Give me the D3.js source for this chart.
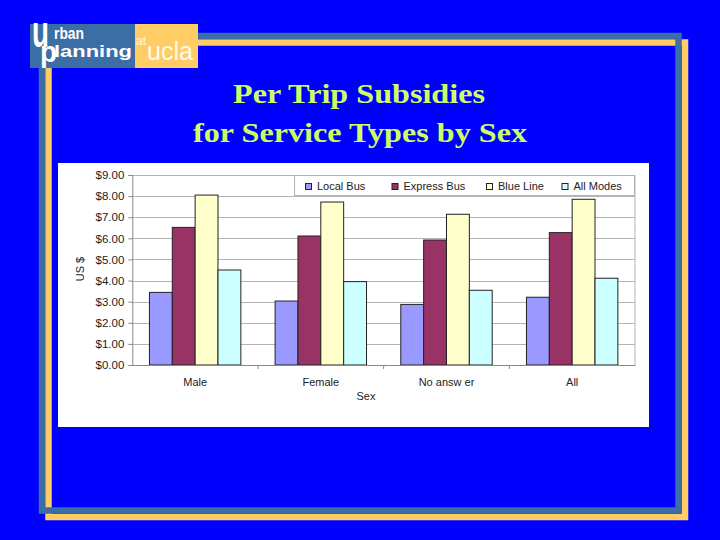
<!DOCTYPE html>
<html>
<head>
<meta charset="utf-8">
<script src="https://cdn.jsdelivr.net/npm/d3@7"></script>
<style>
  body { margin: 0; background: #0000ff; }
  svg { display: block; }
</style>
</head>
<body>
<script>
var categories = ["Male", "Female", "No answ er", "All"];
var series = ["Local Bus", "Express Bus", "Blue Line", "All Modes"];
var colors = ["#9999ff", "#993366", "#ffffcc", "#ccffff"];
// one array per series, in category order
var localBus   = [3.44, 3.03, 2.87, 3.21];
var expressBus = [6.52, 6.11, 5.92, 6.27];
var blueLine   = [8.05, 7.72, 7.14, 7.85];
var allModes   = [4.50, 3.95, 3.54, 4.11];
var yTicks = [0, 1, 2, 3, 4, 5, 6, 7, 8, 9];

var values = [localBus, expressBus, blueLine, allModes];

var svg = d3.select("body").append("svg").attr("width", 720).attr("height", 540);

svg.append("rect").attr("width", 720).attr("height", 540).attr("fill", "#0000ff");

// slide frame: orange offset behind steel blue
svg.append("rect")
    .attr("x", 48.5).attr("y", 42.5).attr("width", 636.5).attr("height", 474.5)
    .attr("fill", "none").attr("stroke", "#ffcc66").attr("stroke-width", 6.5);
svg.append("rect")
    .attr("x", 42).attr("y", 36).attr("width", 636.5).attr("height", 474.5)
    .attr("fill", "none").attr("stroke", "#3b6ea5").attr("stroke-width", 6.5);

// logo
var logo = svg.append("g").attr("font-family", "Liberation Sans, Arial, sans-serif").attr("fill", "#ffffff");
logo.append("rect").attr("x", 30).attr("y", 24).attr("width", 105).attr("height", 44).attr("fill", "#3b6ea5");
logo.append("rect").attr("x", 135).attr("y", 24).attr("width", 63).attr("height", 44).attr("fill", "#ffcc66");
logo.append("text").attr("x", 32).attr("y", 47).attr("font-size", 44).attr("font-weight", "bold")
    .attr("textLength", 17).attr("lengthAdjust", "spacingAndGlyphs").text("u");
logo.append("text").attr("x", 40).attr("y", 62).attr("font-size", 30).attr("font-weight", "bold")
    .attr("textLength", 17).attr("lengthAdjust", "spacingAndGlyphs").text("p");
logo.append("text").attr("x", 54).attr("y", 39).attr("font-size", 17).attr("font-weight", "bold")
    .attr("textLength", 30).attr("lengthAdjust", "spacingAndGlyphs").text("rban");
logo.append("text").attr("x", 54).attr("y", 57).attr("font-size", 17).attr("font-weight", "bold")
    .attr("textLength", 78).attr("lengthAdjust", "spacingAndGlyphs").text("lanning");
logo.append("text").attr("x", 136).attr("y", 45).attr("font-size", 12).attr("fill", "#fffbe8").text("at");
logo.append("text").attr("x", 147).attr("y", 60).attr("font-size", 26).attr("fill", "#fffbe8")
    .attr("textLength", 46).attr("lengthAdjust", "spacingAndGlyphs").text("ucla");

// title
var title = svg.append("g").attr("font-family", "Liberation Serif, Times New Roman, serif")
    .attr("font-weight", "bold").attr("font-size", 28).attr("fill", "#ccff66").attr("text-anchor", "middle");
title.append("text").attr("x", 359).attr("y", 103)
    .attr("textLength", 252).attr("lengthAdjust", "spacingAndGlyphs").text("Per Trip Subsidies");
title.append("text").attr("x", 360).attr("y", 142)
    .attr("textLength", 334).attr("lengthAdjust", "spacingAndGlyphs").text("for Service Types by Sex");

// chart box
svg.append("rect").attr("x", 58).attr("y", 163).attr("width", 591).attr("height", 264).attr("fill", "#ffffff");

var plotLeft = 132.3, plotRight = 635, plotTop = 175, plotBottom = 365;

var x0 = d3.scaleBand().domain(categories).range([plotLeft, plotRight]).padding(0);
var x1 = d3.scaleBand().domain(series).range([0, x0.bandwidth()]).paddingInner(0).paddingOuter(0.75);
var y = d3.scaleLinear().domain([0, 9]).range([plotBottom, plotTop]);

var chart = svg.append("g").attr("font-family", "Liberation Sans, Arial, sans-serif").attr("font-size", 11);

// gridlines
chart.selectAll("line.grid")
    .data(yTicks.slice(1))
    .enter().append("line")
    .attr("class", "grid")
    .attr("x1", plotLeft).attr("x2", plotRight)
    .attr("y1", function(d){ return Math.round(y(d)) + 0.5; })
    .attr("y2", function(d){ return Math.round(y(d)) + 0.5; })
    .attr("stroke", "#b4b4b4").attr("stroke-width", 1);
chart.append("line").attr("x1", plotRight).attr("x2", plotRight).attr("y1", plotTop).attr("y2", plotBottom)
    .attr("stroke", "#b4b4b4");

// y axis
var yAxis = chart.append("g").attr("transform", "translate(" + plotLeft + ",0)")
    .call(d3.axisLeft(y).tickValues(yTicks).tickFormat(function(d){ return "$" + d3.format(".2f")(d); })
        .tickSize(4).tickPadding(4));
yAxis.select(".domain").attr("stroke", "#888888");
yAxis.selectAll(".tick line").attr("stroke", "#888888");
yAxis.selectAll("text").attr("fill", "#222222").attr("font-size", 11.5).attr("font-family", "Liberation Sans, Arial, sans-serif");

// bars
var groups = chart.selectAll("g.cat")
    .data(categories)
    .enter().append("g")
    .attr("class", "cat")
    .attr("transform", function(d){ return "translate(" + x0(d) + ",0)"; });

groups.selectAll("rect")
    .data(function(d, i){ return series.map(function(s, j){ return {s: s, v: values[j][i], c: colors[j]}; }); })
    .enter().append("rect")
    .attr("x", function(d){ return x1(d.s); })
    .attr("y", function(d){ return y(d.v); })
    .attr("width", x1.bandwidth())
    .attr("height", function(d){ return plotBottom - y(d.v); })
    .attr("fill", function(d){ return d.c; })
    .attr("stroke", "#222222").attr("stroke-width", 1);

// x axis
var xAxis = chart.append("g").attr("transform", "translate(0," + plotBottom + ")")
    .call(d3.axisBottom(x0).tickSize(0).tickPadding(13));
xAxis.select(".domain").attr("stroke", "#888888");
xAxis.selectAll("text").attr("fill", "#222222").attr("font-size", 11).attr("font-family", "Liberation Sans, Arial, sans-serif");
chart.selectAll("line.xtick")
    .data(categories.slice(1))
    .enter().append("line")
    .attr("class", "xtick")
    .attr("x1", function(d){ return x0(d); }).attr("x2", function(d){ return x0(d); })
    .attr("y1", plotBottom).attr("y2", plotBottom + 4)
    .attr("stroke", "#888888");

// axis titles
chart.append("text").attr("x", 366).attr("y", 400).attr("text-anchor", "middle").attr("fill", "#222222").text("Sex");
chart.append("text").attr("transform", "translate(84,269) rotate(-90)").attr("text-anchor", "middle")
    .attr("fill", "#222222").text("US $");

// legend
var legend = chart.append("g");
legend.append("rect").attr("x", 294.5).attr("y", 175.5).attr("width", 340).attr("height", 20)
    .attr("fill", "#ffffff").attr("stroke", "#b4b4b4");
var legendX = [305, 391.5, 486, 561.5];
var items = legend.selectAll("g.item")
    .data(series)
    .enter().append("g")
    .attr("class", "item")
    .attr("transform", function(d, i){ return "translate(" + legendX[i] + ",0)"; });
items.append("rect").attr("x", 0.5).attr("y", 183.5).attr("width", 6).attr("height", 6)
    .attr("fill", function(d, i){ return colors[i]; }).attr("stroke", "#222222");
items.append("text").attr("x", 12).attr("y", 190).attr("fill", "#222222").text(function(d){ return d; });
</script>
</body>
</html>
